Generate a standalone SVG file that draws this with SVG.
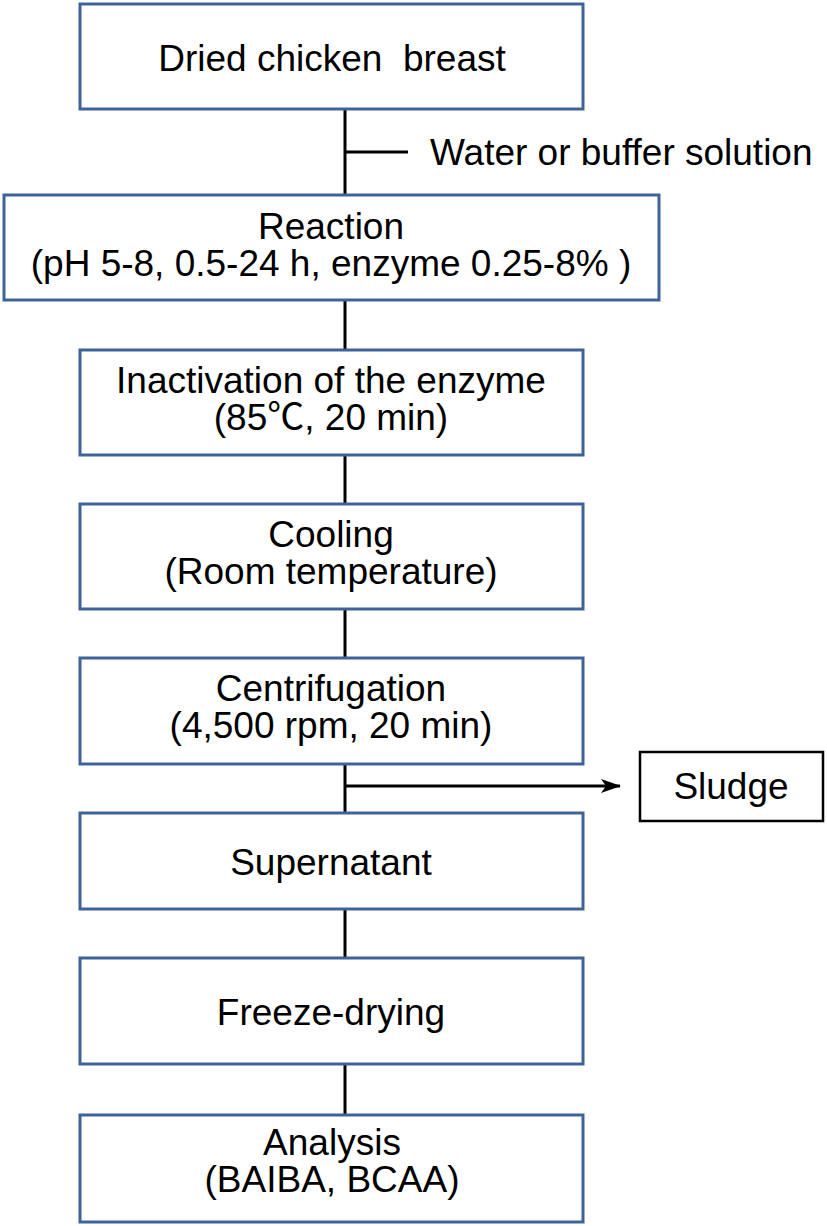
<svg xmlns="http://www.w3.org/2000/svg" width="827" height="1226" viewBox="0 0 827 1226">
<style>
.box{fill:#ffffff;stroke:#3E6399;stroke-width:3}
.sbox{fill:#ffffff;stroke:#000000;stroke-width:2.5}
.t{font-family:"Liberation Sans",Arial,"Noto Sans CJK SC",sans-serif;font-size:37px;fill:#000000;text-anchor:middle}
.tl{font-family:"Liberation Sans",Arial,sans-serif;font-size:37px;fill:#000000;text-anchor:start}
.c{stroke:#000000;stroke-width:3;fill:none}
</style>
<defs>
<marker id="ah" markerWidth="20" markerHeight="14" refX="19" refY="7" orient="auto" markerUnits="userSpaceOnUse">
<path d="M0,0 L20,7 L0,14 L5,7 Z" fill="#000000"/>
</marker>
</defs>
<rect width="827" height="1226" fill="#ffffff"/>
<g id="connectors">
<line class="c" x1="345" y1="109" x2="345" y2="195"/>
<line class="c" x1="345" y1="152" x2="408" y2="152"/>
<line class="c" x1="345" y1="300" x2="345" y2="350"/>
<line class="c" x1="345" y1="455" x2="345" y2="504"/>
<line class="c" x1="345" y1="609" x2="345" y2="658"/>
<line class="c" x1="345" y1="764" x2="345" y2="813"/>
<line class="c" x1="345" y1="786" x2="620" y2="786" marker-end="url(#ah)"/>
<line class="c" x1="345" y1="909" x2="345" y2="958"/>
<line class="c" x1="345" y1="1064" x2="345" y2="1115"/>
</g>
<g id="water-label">
<text class="tl" x="430" y="165">Water or buffer solution</text>
</g>
<g id="n1">
<rect class="box" x="80" y="4" width="503" height="105"/>
<text class="t" x="332" y="71" xml:space="preserve">Dried chicken  breast</text>
</g>
<g id="n2">
<rect class="box" x="4" y="195" width="655" height="105"/>
<text class="t" x="331" y="239">Reaction</text>
<text class="t" x="331" y="276">(pH 5-8, 0.5-24 h, enzyme 0.25-8% )</text>
</g>
<g id="n3">
<rect class="box" x="80" y="350" width="503" height="105"/>
<text class="t" x="331" y="393">Inactivation of the enzyme</text>
<text class="t" x="331" y="430">(85℃, 20 min)</text>
</g>
<g id="n4">
<rect class="box" x="80" y="504" width="503" height="105"/>
<text class="t" x="331" y="547">Cooling</text>
<text class="t" x="331" y="584">(Room temperature)</text>
</g>
<g id="n5">
<rect class="box" x="80" y="658" width="503" height="106"/>
<text class="t" x="331" y="701">Centrifugation</text>
<text class="t" x="331" y="738">(4,500 rpm, 20 min)</text>
</g>
<g id="n6">
<rect class="box" x="80" y="813" width="503" height="96"/>
<text class="t" x="331" y="875">Supernatant</text>
</g>
<g id="n7">
<rect class="box" x="80" y="958" width="503" height="106"/>
<text class="t" x="331" y="1025">Freeze-drying</text>
</g>
<g id="n8">
<rect class="box" x="80" y="1115" width="503" height="107"/>
<text class="t" x="332" y="1155">Analysis</text>
<text class="t" x="332" y="1192">(BAIBA, BCAA)</text>
</g>
<g id="sludge">
<rect class="sbox" x="640" y="752" width="183" height="69"/>
<text class="t" x="731" y="799">Sludge</text>
</g>
</svg>
